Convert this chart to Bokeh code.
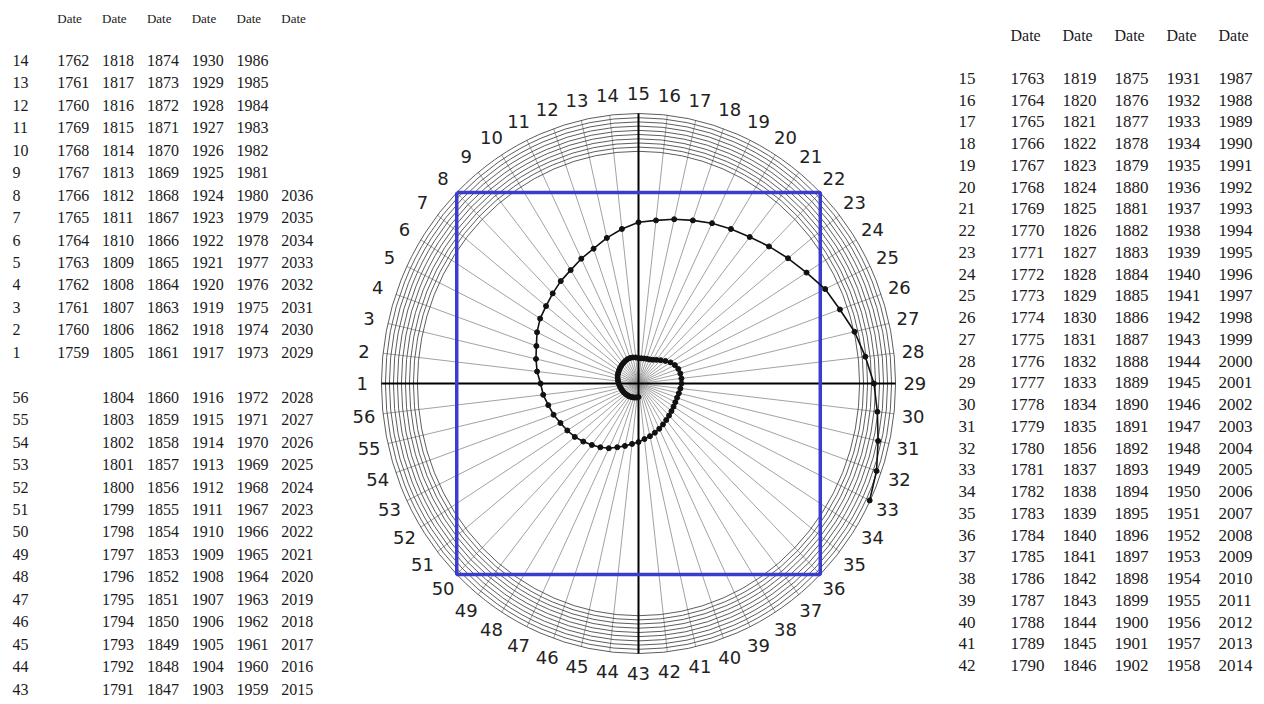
import math
from bokeh.plotting import figure
from bokeh.layouts import row
from bokeh.models import Range1d
from bokeh.core.properties import value
from bokeh.embed import file_html
from bokeh.resources import INLINE

# ---------------- data ----------------
N_SPOKES = 56
spoke_labels = [str(k) for k in range(1, 57)]
blue_square_spokes = [8, 22, 36, 50]

# spiral: inner turn (spokes 43..56,1..42) and outer turn (spokes 43..56,1..33)
inner_turn_spokes = [43, 44, 45, 46, 47, 48, 49, 50, 51, 52, 53, 54, 55, 56,
                     1, 2, 3, 4, 5, 6, 7, 8, 9, 10, 11, 12, 13, 14, 15, 16, 17, 18, 19, 20,
                     21, 22, 23, 24, 25, 26, 27, 28, 29, 30, 31, 32, 33, 34, 35, 36, 37, 38, 39, 40, 41, 42]
inner_turn_r = [0.050, 0.052, 0.053, 0.055, 0.056, 0.058, 0.060, 0.061, 0.063, 0.065, 0.067, 0.069, 0.071, 0.074,
                0.077, 0.080, 0.083, 0.086, 0.088, 0.090, 0.092, 0.094, 0.096, 0.098, 0.100, 0.100, 0.099, 0.097,
                0.094, 0.094, 0.095, 0.097, 0.099, 0.104, 0.112, 0.122, 0.134, 0.147, 0.157, 0.164, 0.167, 0.168,
                0.167, 0.164, 0.161, 0.159, 0.159, 0.161, 0.164, 0.168, 0.173, 0.179, 0.186, 0.193, 0.200, 0.207]
outer_turn_spokes = [43, 44, 45, 46, 47, 48, 49, 50, 51, 52, 53, 54, 55, 56,
                     1, 2, 3, 4, 5, 6, 7, 8, 9, 10, 11, 12, 13, 14, 15, 16, 17, 18, 19, 20,
                     21, 22, 23, 24, 25, 26, 27, 28, 29, 30, 31, 32, 33]
outer_turn_r = [0.217, 0.225, 0.237, 0.250, 0.266, 0.279, 0.291, 0.304, 0.317, 0.327, 0.337, 0.350, 0.360, 0.373,
                0.381, 0.397, 0.409, 0.421, 0.438, 0.452, 0.460, 0.472, 0.485, 0.496, 0.513, 0.529, 0.553, 0.576,
                0.597, 0.608, 0.624, 0.640, 0.659, 0.676, 0.694, 0.718, 0.744, 0.772, 0.806, 0.830, 0.862, 0.888,
                0.916, 0.935, 0.956, 0.981, 0.998]

# left table
left_header = ["Date", "Date", "Date", "Date", "Date", "Date"]
left_top_ids = ["14", "13", "12", "11", "10", "9", "8", "7", "6", "5", "4", "3", "2", "1"]
left_top_c1 = ["1762", "1761", "1760", "1769", "1768", "1767", "1766", "1765", "1764", "1763", "1762", "1761", "1760", "1759"]
left_top_c2 = ["1818", "1817", "1816", "1815", "1814", "1813", "1812", "1811", "1810", "1809", "1808", "1807", "1806", "1805"]
left_top_c3 = ["1874", "1873", "1872", "1871", "1870", "1869", "1868", "1867", "1866", "1865", "1864", "1863", "1862", "1861"]
left_top_c4 = ["1930", "1929", "1928", "1927", "1926", "1925", "1924", "1923", "1922", "1921", "1920", "1919", "1918", "1917"]
left_top_c5 = ["1986", "1985", "1984", "1983", "1982", "1981", "1980", "1979", "1978", "1977", "1976", "1975", "1974", "1973"]
left_top_c6 = ["", "", "", "", "", "", "2036", "2035", "2034", "2033", "2032", "2031", "2030", "2029"]
left_bot_ids = ["56", "55", "54", "53", "52", "51", "50", "49", "48", "47", "46", "45", "44", "43"]
left_bot_c1 = ["", "", "", "", "", "", "", "", "", "", "", "", "", ""]
left_bot_c2 = ["1804", "1803", "1802", "1801", "1800", "1799", "1798", "1797", "1796", "1795", "1794", "1793", "1792", "1791"]
left_bot_c3 = ["1860", "1859", "1858", "1857", "1856", "1855", "1854", "1853", "1852", "1851", "1850", "1849", "1848", "1847"]
left_bot_c4 = ["1916", "1915", "1914", "1913", "1912", "1911", "1910", "1909", "1908", "1907", "1906", "1905", "1904", "1903"]
left_bot_c5 = ["1972", "1971", "1970", "1969", "1968", "1967", "1966", "1965", "1964", "1963", "1962", "1961", "1960", "1959"]
left_bot_c6 = ["2028", "2027", "2026", "2025", "2024", "2023", "2022", "2021", "2020", "2019", "2018", "2017", "2016", "2015"]

# right table
right_header = ["Date", "Date", "Date", "Date", "Date"]
right_ids = ["15", "16", "17", "18", "19", "20", "21", "22", "23", "24", "25", "26", "27", "28",
             "29", "30", "31", "32", "33", "34", "35", "36", "37", "38", "39", "40", "41", "42"]
right_c1 = ["1763", "1764", "1765", "1766", "1767", "1768", "1769", "1770", "1771", "1772", "1773", "1774", "1775", "1776",
            "1777", "1778", "1779", "1780", "1781", "1782", "1783", "1784", "1785", "1786", "1787", "1788", "1789", "1790"]
right_c2 = ["1819", "1820", "1821", "1822", "1823", "1824", "1825", "1826", "1827", "1828", "1829", "1830", "1831", "1832",
            "1833", "1834", "1835", "1856", "1837", "1838", "1839", "1840", "1841", "1842", "1843", "1844", "1845", "1846"]
right_c3 = ["1875", "1876", "1877", "1878", "1879", "1880", "1881", "1882", "1883", "1884", "1885", "1886", "1887", "1888",
            "1889", "1890", "1891", "1892", "1893", "1894", "1895", "1896", "1897", "1898", "1899", "1900", "1901", "1902"]
right_c4 = ["1931", "1932", "1933", "1934", "1935", "1936", "1937", "1938", "1939", "1940", "1941", "1942", "1943", "1944",
            "1945", "1946", "1947", "1948", "1949", "1950", "1951", "1952", "1953", "1954", "1955", "1956", "1957", "1958"]
right_c5 = ["1987", "1988", "1989", "1990", "1991", "1992", "1993", "1994", "1995", "1996", "1997", "1998", "1999", "2000",
            "2001", "2002", "2003", "2004", "2005", "2006", "2007", "2008", "2009", "2010", "2011", "2012", "2013", "2014"]

# ---------------- helpers ----------------
TEXT_COLOR = "#1a1a1a"
SERIF = value("Liberation Serif")


def bare(fig):
    fig.xgrid.visible = False
    fig.ygrid.visible = False
    fig.outline_line_color = None
    fig.min_border = 0
    return fig


def table_fig(width, height, xr, yr):
    f = figure(width=width, height=height, output_backend="svg", toolbar_location=None,
               x_range=xr, y_range=yr, x_axis_location=None, y_axis_location=None, tools="")
    return bare(f)


def add_column(f, col_index, rows, texts, size):
    xs, ys, ts = [], [], []
    for r, t in zip(rows, texts):
        if t:
            xs.append(col_index)
            ys.append(r)
            ts.append(t)
    f.text(x=xs, y=ys, text=ts, text_font=SERIF, text_font_size=size,
           text_align="left", text_baseline="middle", text_color=TEXT_COLOR)


H = 700

# ---------------- left table ----------------
left = table_fig(338, H, Range1d(-0.268, 7.277), Range1d(28.51, -2.673))
top_rows = list(range(0, 14))
bot_rows = list(range(15, 29))
LS = "16px"
add_column(left, 0, top_rows + bot_rows, left_top_ids + left_bot_ids, LS)
left_cols = [(left_top_c1, left_bot_c1), (left_top_c2, left_bot_c2), (left_top_c3, left_bot_c3),
             (left_top_c4, left_bot_c4), (left_top_c5, left_bot_c5), (left_top_c6, left_bot_c6)]
for i, (tc, bc) in enumerate(left_cols):
    add_column(left, i + 1, top_rows + bot_rows, tc + bc, LS)
left.text(x=list(range(1, 7)), y=[-1.87] * 6, text=left_header, text_font=SERIF,
          text_font_size="13px", text_align="left", text_baseline="middle", text_color=TEXT_COLOR)

# ---------------- right table ----------------
right = table_fig(318, H, Range1d(-0.385, 5.731), Range1d(28.61, -3.588))
r_rows = list(range(0, 28))
RS = "17px"
add_column(right, 0, r_rows, right_ids, RS)
for i, c in enumerate([right_c1, right_c2, right_c3, right_c4, right_c5]):
    add_column(right, i + 1, r_rows, c, RS)
right.text(x=list(range(1, 6)), y=[-1.98] * 5, text=right_header, text_font=SERIF,
           text_font_size="16px", text_align="left", text_baseline="middle", text_color=TEXT_COLOR)

# ---------------- polar chart ----------------
polar = figure(width=600, height=H, output_backend="svg", toolbar_location=None, tools="",
               x_range=Range1d(-1.167, 1.167), y_range=Range1d(-1.174, 1.4185),
               x_axis_location=None, y_axis_location=None)
bare(polar)


def ang(k):
    return math.pi - (k - 1) * 2 * math.pi / N_SPOKES


spokes = list(range(1, N_SPOKES + 1))
# spokes
polar.multi_line(xs=[[0, math.cos(ang(k))] for k in spokes],
                 ys=[[0, math.sin(ang(k))] for k in spokes],
                 line_color="#8a8a8a", line_width=0.8)
# rings
n_rings = 10
ring_r = [0.86 + i * (1.0 - 0.86) / (n_rings - 1) for i in range(n_rings)]
polar.ellipse(x=[0] * n_rings, y=[0] * n_rings, width=[2 * r for r in ring_r],
              height=[2 * r for r in ring_r], fill_color=None, line_color="#333333", line_width=0.8)
# axes cross
polar.multi_line(xs=[[-1, 1], [0, 0]], ys=[[0, 0], [-1, 1]], line_color="black", line_width=2)

# blue square
sq = blue_square_spokes + blue_square_spokes[:1]
polar.line(x=[math.cos(ang(k)) for k in sq], y=[math.sin(ang(k)) for k in sq],
           line_color="#3a3dcc", line_width=3.5)

# spiral
sp_k = inner_turn_spokes + outer_turn_spokes
sp_r = inner_turn_r + outer_turn_r
sx = [r * math.cos(ang(k)) for k, r in zip(sp_k, sp_r)]
sy = [r * math.sin(ang(k)) for k, r in zip(sp_k, sp_r)]
polar.line(x=sx, y=sy, line_color="#111111", line_width=1.6)
polar.scatter(x=sx, y=sy, size=5, marker="circle", fill_color="#111111", line_color="#111111")

# labels
LR = 1.075
polar.text(x=[LR * math.cos(ang(k)) for k in spokes], y=[LR * math.sin(ang(k)) for k in spokes],
           text=spoke_labels, text_font=value("DejaVu Sans"), text_font_size="18px",
           text_align="center", text_baseline="middle", text_color="#222222")

layout = row(left, polar, right)
open("out.html", "w").write(file_html(layout, INLINE))
